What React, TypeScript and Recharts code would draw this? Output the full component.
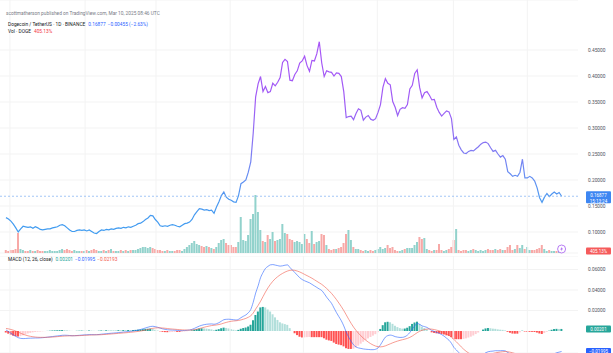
import React from 'react'
import {
  ComposedChart,
  Line,
  Bar,
  Cell,
  XAxis,
  YAxis,
  CartesianGrid,
  ReferenceLine,
  ReferenceDot,
} from 'recharts'

// DOGE/USDT daily closes (Binance), end of July 2024 -> 10 Mar 2025
const closes = [
  0.1276, 0.125, 0.121, 0.115, 0.108, 0.1, 0.106, 0.111, 0.11, 0.109,
  0.11, 0.107, 0.11, 0.108, 0.105, 0.104, 0.105, 0.106, 0.106, 0.108,
  0.109, 0.11, 0.113, 0.114, 0.112, 0.108, 0.104, 0.101, 0.101, 0.103,
  0.104, 0.103, 0.104, 0.102, 0.104, 0.101, 0.098, 0.097, 0.101, 0.104,
  0.103, 0.105, 0.104, 0.106, 0.105, 0.107, 0.108, 0.107, 0.109, 0.108,
  0.11, 0.109, 0.111, 0.113, 0.116, 0.117, 0.12, 0.124, 0.127, 0.132,
  0.131, 0.124, 0.119, 0.112, 0.111, 0.112, 0.111, 0.113, 0.114, 0.113,
  0.111, 0.11, 0.113, 0.116, 0.117, 0.119, 0.124, 0.133, 0.139, 0.145,
  0.144, 0.142, 0.143, 0.141, 0.142, 0.136, 0.148, 0.158, 0.17, 0.177,
  0.167, 0.163, 0.161, 0.158, 0.157, 0.17, 0.193, 0.196, 0.2, 0.215,
  0.235, 0.29, 0.36, 0.385, 0.399, 0.37, 0.38, 0.368, 0.37, 0.386,
  0.381, 0.388, 0.397, 0.426, 0.432, 0.428, 0.392, 0.391, 0.403, 0.41,
  0.425, 0.429, 0.438, 0.42, 0.409, 0.43, 0.429, 0.443, 0.466, 0.425,
  0.399, 0.41, 0.408, 0.407, 0.4, 0.406, 0.405, 0.399, 0.37, 0.32,
  0.322, 0.323, 0.316, 0.328, 0.337, 0.334, 0.315, 0.321, 0.324, 0.317,
  0.315, 0.318, 0.33, 0.345, 0.378, 0.395, 0.386, 0.383, 0.351, 0.34,
  0.324, 0.336, 0.339, 0.338, 0.345, 0.375, 0.382, 0.405, 0.412, 0.378,
  0.358, 0.368, 0.37, 0.363, 0.354, 0.355, 0.34, 0.33, 0.323, 0.328,
  0.333, 0.331, 0.318, 0.278, 0.283, 0.267, 0.258, 0.252, 0.251, 0.255,
  0.257, 0.256, 0.26, 0.264, 0.269, 0.272, 0.273, 0.27, 0.262, 0.255,
  0.257, 0.25, 0.244, 0.247, 0.24, 0.216, 0.212, 0.207, 0.209, 0.207,
  0.215, 0.24, 0.204, 0.204, 0.207, 0.204, 0.198, 0.185, 0.166, 0.157,
  0.167, 0.174, 0.168, 0.173, 0.177, 0.173, 0.176, 0.16877,
]

// daily volume, relative units
const volumes = [
  3, 2, 3, 3, 4, 20, 4, 3, 2, 2,
  3, 2, 2, 3, 2, 2, 2, 2, 3, 2,
  2, 2, 3, 4, 3, 4, 3, 2, 3, 2,
  2, 2, 2, 3, 2, 3, 4, 3, 2, 2,
  3, 2, 3, 4, 2, 2, 2, 3, 2, 3,
  2, 3, 3, 3, 4, 5, 6, 6, 5, 6,
  5, 4, 3, 3, 2, 2, 3, 2, 2, 2,
  3, 3, 2, 4, 6, 8, 10, 12, 9, 8,
  7, 6, 7, 6, 5, 4, 6, 10, 13, 14,
  10, 8, 8, 6, 6, 11, 36, 13, 12, 18,
  34, 39, 58, 41, 23, 12, 11, 18, 14, 21,
  12, 13, 14, 29, 20, 19, 14, 13, 11, 12,
  11, 9, 19, 14, 10, 22, 9, 11, 12, 19,
  18, 8, 4, 3, 4, 4, 5, 6, 10, 19,
  23, 13, 6, 4, 4, 3, 2, 3, 2, 3,
  2, 3, 4, 6, 4, 5, 8, 5, 6, 3,
  2, 2, 3, 4, 5, 5, 5, 8, 11, 16,
  14, 15, 4, 3, 2, 3, 3, 9, 3, 2,
  3, 4, 6, 13, 24, 3, 2, 3, 3, 2,
  3, 4, 3, 2, 3, 2, 3, 4, 3, 3,
  4, 3, 4, 3, 3, 6, 8, 3, 4, 8,
  5, 8, 4, 6, 3, 3, 3, 4, 5, 8,
  4, 2, 3, 2, 2, 2, 2, 2,
]

// MACD (12, 26, close), in thousandths
const macdLine = [
  1.0, -0.5, -2.2, -3.8, -5.2, -6.5, -7.2, -7.4, -7.3, -7.1,
  -7.0, -6.9, -6.8, -6.8, -6.7, -6.5, -6.3, -6.0, -5.7, -5.4,
  -5.1, -4.8, -4.5, -4.2, -4.1, -4.2, -4.4, -4.6, -4.6, -4.4,
  -4.2, -4.0, -3.8, -3.7, -3.5, -3.5, -3.6, -3.6, -3.4, -3.1,
  -2.9, -2.6, -2.4, -2.2, -2.0, -1.8, -1.5, -1.3, -1.0, -0.8,
  -0.5, -0.3, 0.0, 0.4, 0.9, 1.5, 2.2, 3.0, 3.7, 4.4,
  4.6, 4.2, 3.6, 2.8, 2.1, 1.6, 1.2, 1.0, 0.9, 0.8,
  0.6, 0.4, 0.4, 0.5, 0.7, 1.0, 1.6, 2.6, 3.7, 4.8,
  5.6, 6.2, 6.6, 6.8, 6.9, 6.6, 7.1, 8.1, 9.6, 11.0,
  11.4, 11.5, 11.3, 11.0, 10.7, 11.4, 13.0, 14.4, 15.7, 17.8,
  21.0, 28.0, 37.0, 44.0, 52.0, 57.0, 61.0, 63.0, 64.5, 64.8,
  64.3, 63.8, 63.3, 63.6, 64.2, 64.5, 62.0, 59.5, 57.0, 54.5,
  52.0, 50.2, 49.0, 48.0, 47.0, 45.5, 44.0, 42.5, 41.0, 39.5,
  36.5, 33.0, 30.0, 27.0, 22.5, 18.0, 14.0, 10.0, 5.0, -1.0,
  -6.0, -10.0, -13.5, -15.5, -16.5, -17.0, -17.5, -17.8, -18.0, -18.2,
  -18.2, -17.8, -16.5, -13.5, -9.5, -6.0, -4.5, -4.0, -4.5, -5.5,
  -6.0, -6.3, -6.2, -5.5, -4.0, -1.5, 2.0, 5.0, 7.5, 6.5,
  5.0, 4.3, 3.5, 2.0, 0.5, -0.5, -1.5, -2.2, -3.5, -5.0,
  -7.0, -9.0, -12.0, -16.0, -18.5, -21.0, -23.5, -25.5, -27.0, -27.8,
  -28.2, -28.0, -27.2, -26.0, -24.5, -22.8, -21.2, -20.2, -19.8, -19.6,
  -19.2, -19.3, -19.2, -19.1, -19.4, -21.0, -22.4, -23.8, -24.6, -25.2,
  -24.2, -22.6, -23.5, -24.0, -24.2, -24.4, -24.8, -25.6, -27.0, -28.0,
  -27.5, -26.4, -25.0, -23.6, -22.2, -21.2, -20.6, -19.95,
]

const signalLine = [
  2.5, 2.1, 1.5, 0.8, -0.1, -1.1, -2.2, -3.2, -4.0, -4.7,
  -5.2, -5.6, -5.9, -6.1, -6.2, -6.2, -6.2, -6.1, -6.0, -5.9,
  -5.7, -5.5, -5.3, -5.1, -4.9, -4.8, -4.7, -4.7, -4.6, -4.6,
  -4.5, -4.4, -4.2, -4.1, -4.0, -3.9, -3.8, -3.7, -3.7, -3.6,
  -3.4, -3.3, -3.1, -2.9, -2.7, -2.5, -2.3, -2.1, -1.9, -1.7,
  -1.5, -1.2, -1.0, -0.7, -0.4, 0.0, 0.4, 0.9, 1.5, 2.1,
  2.6, 3.0, 3.1, 3.1, 2.9, 2.7, 2.4, 2.1, 1.9, 1.7,
  1.5, 1.3, 1.1, 1.0, 0.9, 0.9, 1.0, 1.3, 1.8, 2.4,
  3.0, 3.7, 4.3, 4.8, 5.3, 5.6, 5.9, 6.3, 6.9, 7.7,
  8.4, 9.0, 9.5, 9.8, 10.0, 10.3, 10.8, 11.5, 12.3, 13.4,
  14.9, 17.5, 21.4, 25.0, 29.0, 33.5, 38.0, 42.0, 45.5, 48.5,
  51.0, 53.0, 54.8, 56.2, 57.5, 58.5, 59.2, 59.4, 59.2, 58.5,
  57.6, 56.5, 55.2, 54.0, 52.8, 51.5, 50.0, 48.5, 47.0, 45.5,
  43.6, 41.5, 39.2, 36.7, 33.8, 30.7, 27.3, 23.8, 20.0, 15.8,
  11.5, 7.5, 3.8, 0.6, -2.2, -4.7, -7.0, -9.0, -10.8, -12.4,
  -13.7, -14.7, -15.3, -15.5, -15.2, -14.5, -13.5, -12.5, -11.5, -10.6,
  -9.8, -9.1, -8.5, -7.9, -7.2, -6.2, -4.9, -3.3, -1.6, -0.3,
  0.7, 1.4, 1.9, 2.0, 1.8, 1.4, 0.8, 0.2, -0.6, -1.6,
  -2.8, -4.2, -6.0, -8.2, -10.5, -13.0, -15.5, -17.8, -19.8, -21.4,
  -22.7, -23.6, -24.2, -24.5, -24.5, -24.2, -23.7, -23.1, -22.5, -21.9,
  -21.3, -20.9, -20.5, -20.2, -20.0, -20.2, -20.7, -21.3, -22.0, -22.6,
  -22.9, -22.9, -23.0, -23.2, -23.4, -23.6, -23.8, -24.1, -24.6, -25.1,
  -25.5, -25.6, -25.3, -24.8, -24.1, -23.3, -22.6, -21.93,
]

const histogram = [
  -1.5, -2.6, -3.7, -4.6, -5.1, -5.4, -5.0, -4.2, -3.3, -2.4,
  -1.8, -1.3, -0.9, -0.7, -0.5, -0.3, -0.1, 0.1, 0.3, 0.5,
  0.6, 0.7, 0.8, 0.9, 0.8, 0.6, 0.3, 0.1, 0.0, 0.2,
  0.3, 0.4, 0.4, 0.4, 0.5, 0.4, 0.2, 0.1, 0.3, 0.5,
  0.5, 0.7, 0.7, 0.7, 0.7, 0.7, 0.8, 0.8, 0.9, 0.9,
  1.0, 0.9, 1.0, 1.1, 1.3, 1.5, 1.8, 2.1, 2.2, 2.3,
  2.0, 1.2, 0.5, -0.3, -0.8, -1.1, -1.2, -1.1, -1.0, -0.9,
  -0.9, -0.9, -0.7, -0.5, -0.2, 0.1, 0.6, 1.3, 1.9, 2.4,
  2.6, 2.5, 2.3, 2.0, 1.6, 1.0, 1.2, 1.8, 2.7, 3.3,
  3.0, 2.5, 1.8, 1.2, 0.7, 1.1, 2.2, 2.9, 3.4, 4.4,
  6.1, 10.5, 15.6, 19.0, 23.0, 23.5, 23.0, 21.0, 19.0, 16.3,
  13.3, 10.8, 8.5, 7.4, 6.7, 6.0, 2.8, 0.1, -2.2, -4.0,
  -5.6, -6.3, -6.2, -6.0, -5.8, -6.0, -6.0, -6.0, -6.0, -6.0,
  -7.1, -8.5, -9.2, -9.7, -11.3, -12.7, -13.3, -13.8, -15.0, -16.8,
  -17.5, -17.5, -17.3, -16.1, -14.3, -12.3, -10.5, -8.8, -7.2, -5.8,
  -4.5, -3.1, -1.2, 2.0, 5.7, 8.5, 9.0, 8.5, 7.0, 5.1,
  3.8, 2.8, 2.3, 2.4, 3.2, 4.7, 6.9, 8.3, 9.1, 6.8,
  4.3, 2.9, 1.6, 0.0, -1.3, -1.9, -2.3, -2.4, -2.9, -3.4,
  -4.2, -4.8, -6.0, -7.8, -8.0, -8.0, -8.0, -7.7, -7.2, -6.4,
  -5.5, -4.4, -3.0, -1.5, 0.0, 1.4, 2.5, 2.9, 2.7, 2.3,
  2.1, 1.6, 1.3, 1.1, 0.6, -0.8, -1.7, -2.5, -2.6, -2.6,
  -1.3, 0.3, -0.5, -0.8, -0.8, -0.8, -1.0, -1.5, -2.4, -2.9,
  -2.0, -0.8, 0.3, 1.2, 1.9, 2.1, 2.0, 2.01,
]

const priceTicks = [0.1, 0.15, 0.2, 0.25, 0.3, 0.35, 0.4, 0.45]
const macdTicks = [20, 40, 60]
// bar index where each month starts (Aug .. Mar)
const monthStarts = [1.6, 32.3, 61.3, 91.6, 121.5, 151.7, 182.8, 213]

const lastClose = 0.16877
const countdown = '15:13:24'
const volPct = '405.13%'
const iconLevel = 4

const FONT = 'Roboto, "Liberation Sans", sans-serif'
const FS = 4.8
const xDomain = [-2.45, closes.length + 5.7]
const priceDomain = [0.0596, 0.5462]
const volDomain = [0, 253]
const macdDomain = [-21.46, 73.17]

const MACD_BLUE = '#2962ff'
const SIGNAL_RED = '#f2594b'

const rows = closes.map((c, i) => ({
  i,
  close: c,
  vol: volumes[i],
  macd: macdLine[i],
  signal: signalLine[i],
  hist: histogram[i],
}))

const volColor = (i: number) =>
  i > 0 && closes[i] >= closes[i - 1] ? '#92d2cc' : '#f7a9a7'

const histColor = (i: number) => {
  const h = histogram[i]
  const prev = i > 0 ? histogram[i - 1] : h
  if (h >= 0) return prev < h ? '#26a69a' : '#b2dfdb'
  return prev < h ? '#ffcdd2' : '#ff5252'
}

function AxisTag({ viewBox, tagColor, tagLines }: any) {
  if (!viewBox) return null
  const x = viewBox.x + viewBox.width + 8
  const y = viewBox.y
  const two = tagLines.length > 1
  return (
    <g>
      <rect x={x} y={two ? y - 5 : y - 3.5} width={25} height={two ? 12 : 7} fill={tagColor} rx={1} />
      {tagLines.map((t: string, k: number) => (
        <text
          key={k}
          x={x + 12.5}
          y={two ? y - 0.6 + k * 5.4 : y}
          dy="0.35em"
          textAnchor="middle"
          fontSize={4.5}
          fontFamily={FONT}
          fill="#fff"
        >
          {t}
        </text>
      ))}
    </g>
  )
}

const BoltIcon = (p: any) => (
  <g>
    <circle cx={p.cx} cy={p.cy} r={4} fill="#fff" stroke="#a55cf0" strokeWidth={0.8} />
    <path
      d={`M${p.cx + 0.7} ${p.cy - 2.6} L${p.cx - 1.4} ${p.cy + 0.4} L${p.cx} ${p.cy + 0.4} L${p.cx - 0.7} ${p.cy + 2.6} L${p.cx + 1.4} ${p.cy - 0.4} L${p.cx} ${p.cy - 0.4} Z`}
      fill="#a55cf0"
    />
  </g>
)

const tickStyle = { fontSize: FS, fill: '#50535e', fontFamily: FONT }

export default function App() {
  return (
    <div
      style={{
        position: 'absolute',
        left: 0,
        top: 0,
        width: 613,
        height: 353,
        background: '#fff',
        overflow: 'hidden',
        fontFamily: FONT,
      }}
    >
      <div style={{ position: 'absolute', left: 0, top: 0 }}>
        <ComposedChart width={613} height={256} data={rows} margin={{ top: 0, right: 0, bottom: 3, left: 0 }}>
          <defs>
            <linearGradient id="priceGrad" x1="0" y1="0" x2="0" y2="1">
              <stop offset="0%" stopColor="#a855f7" />
              <stop offset="32%" stopColor="#a05cf5" />
              <stop offset="52%" stopColor="#8a74f3" />
              <stop offset="68%" stopColor="#6a8cf2" />
              <stop offset="82%" stopColor="#4d99f0" />
              <stop offset="100%" stopColor="#3f9cf0" />
            </linearGradient>
          </defs>
          <CartesianGrid yAxisId="price" vertical={false} stroke="#f3f3f3" />
          <XAxis dataKey="i" type="number" domain={xDomain} allowDataOverflow hide />
          <YAxis
            yAxisId="price"
            orientation="right"
            width={35}
            domain={priceDomain}
            ticks={priceTicks}
            interval={0}
            allowDataOverflow
            axisLine={false}
            tickLine={false}
            tickSize={0}
            tickMargin={10}
            tick={tickStyle}
            tickFormatter={(v: number) => v.toFixed(5)}
          />
          <YAxis yAxisId="vol" hide domain={volDomain} allowDataOverflow />
          {monthStarts.map((m) => (
            <ReferenceLine key={m} x={m} yAxisId="price" stroke="#f3f3f3" />
          ))}
          <Bar yAxisId="vol" dataKey="vol" barSize={2} isAnimationActive={false}>
            {rows.map((r) => (
              <Cell key={r.i} fill={volColor(r.i)} />
            ))}
          </Bar>
          <Line
            yAxisId="price"
            dataKey="close"
            type="linear"
            dot={false}
            activeDot={false}
            stroke="url(#priceGrad)"
            strokeWidth={1.2}
            isAnimationActive={false}
          />
          <ReferenceLine
            yAxisId="price"
            y={lastClose}
            stroke="#8ab8f2"
            strokeDasharray="2 2"
            strokeWidth={0.8}
            label={<AxisTag tagColor="#3d86f2" tagLines={[lastClose.toFixed(5), countdown]} />}
          />
          <ReferenceLine
            yAxisId="vol"
            y={volumes[volumes.length - 1]}
            stroke="none"
            label={<AxisTag tagColor="#f55b5b" tagLines={[volPct]} />}
          />
          <ReferenceDot yAxisId="vol" x={closes.length - 1} y={iconLevel} shape={BoltIcon} />
        </ComposedChart>
      </div>

      <div style={{ position: 'absolute', left: 0, top: 256 }}>
        <ComposedChart width={613} height={97} data={rows} margin={{ top: 0, right: 0, bottom: 0, left: 0 }}>
          <CartesianGrid vertical={false} stroke="#f3f3f3" />
          <XAxis dataKey="i" type="number" domain={xDomain} allowDataOverflow hide />
          <YAxis
            orientation="right"
            width={35}
            domain={macdDomain}
            ticks={macdTicks}
            interval={0}
            allowDataOverflow
            axisLine={false}
            tickLine={false}
            tickSize={0}
            tickMargin={10}
            tick={tickStyle}
            tickFormatter={(v: number) => (v / 1000).toFixed(5)}
          />
          {monthStarts.map((m) => (
            <ReferenceLine key={m} x={m} stroke="#f3f3f3" />
          ))}
          <Bar dataKey="hist" barSize={2} isAnimationActive={false}>
            {rows.map((r) => (
              <Cell key={r.i} fill={histColor(r.i)} />
            ))}
          </Bar>
          <Line dataKey="macd" type="monotone" dot={false} activeDot={false} stroke={MACD_BLUE} strokeWidth={0.7} strokeOpacity={0.85} isAnimationActive={false} />
          <Line dataKey="signal" type="monotone" dot={false} activeDot={false} stroke={SIGNAL_RED} strokeWidth={0.7} strokeOpacity={0.85} isAnimationActive={false} />
          <ReferenceLine
            y={histogram[histogram.length - 1]}
            stroke="none"
            label={<AxisTag tagColor="#26a69a" tagLines={[(histogram[histogram.length - 1] / 1000).toFixed(5)]} />}
          />
          <ReferenceLine
            y={macdLine[macdLine.length - 1]}
            stroke="none"
            label={<AxisTag tagColor={MACD_BLUE} tagLines={['\u2212' + Math.abs(macdLine[macdLine.length - 1] / 1000).toFixed(5)]} />}
          />
        </ComposedChart>
      </div>

      <svg
        width={613}
        height={353}
        style={{ position: 'absolute', left: 0, top: 0, pointerEvents: 'none' }}
        fontFamily={FONT}
        fontSize={FS}
      >
        <text x={6} y={13} dy="0.35em" fill="#787b86">
          scottmatherson published on TradingView.com, Mar 10, 2025 08:46 UTC
        </text>
        <text x={8} y={24} dy="0.35em" fill="#131722">
          Dogecoin / TetherUS · 1D · BINANCE
          <tspan dx={3} fill="#2962ff">0.16877</tspan>
          <tspan dx={2} fill="#2962ff">−0.00455 (−2.63%)</tspan>
        </text>
        <text x={8} y={31} dy="0.35em" fill="#131722">
          Vol · DOGE
          <tspan dx={3} fill="#f23645">{volPct}</tspan>
        </text>
        <text x={8} y={259} dy="0.35em" fill="#131722">
          MACD (12, 26, close)
          <tspan dx={3} fill="#26a69a">0.00201</tspan>
          <tspan dx={2} fill={MACD_BLUE}>−0.01995</tspan>
          <tspan dx={2} fill={SIGNAL_RED}>−0.02193</tspan>
        </text>
      </svg>
    </div>
  )
}
